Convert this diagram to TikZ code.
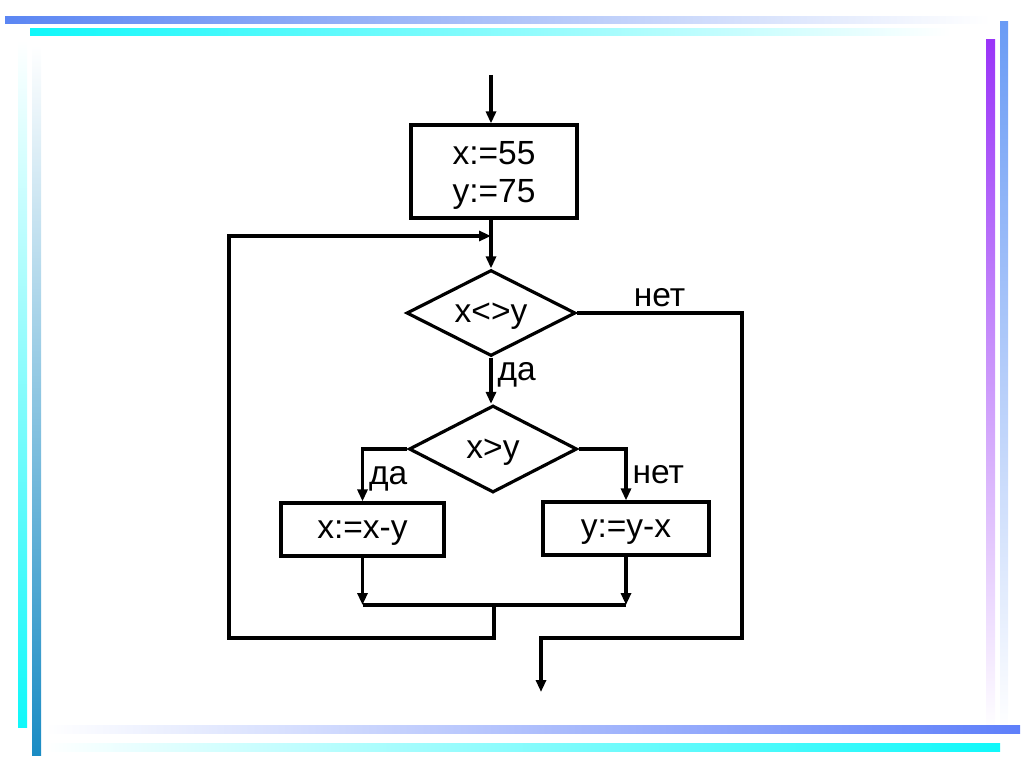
\documentclass[tikz,border=0pt]{standalone}
\usepackage{fontspec}
\setmainfont{Liberation Sans}
\usetikzlibrary{arrows.meta, positioning, shapes.geometric}

\definecolor{barblue}{HTML}{5B86F3}
\definecolor{barcyan}{HTML}{10F8FA}
\definecolor{barpurple}{HTML}{9A35F8}
\definecolor{barsky}{HTML}{6A9BF5}
\definecolor{barindigo}{HTML}{5E7FFA}
\definecolor{barsteel}{HTML}{1A8CC4}

\begin{document}
\begin{tikzpicture}[
  x=1pt, y=-1pt,
  box/.style={rectangle, draw, line width=3.2pt, inner sep=0pt, text depth=0pt, align=center, font=\fontsize{33.5}{38}\selectfont},
  cond/.style={diamond, draw, line width=3.2pt, inner sep=0pt, text depth=0pt, aspect=2, font=\fontsize{33.5}{38}\selectfont},
  flow/.style={line width=3.2pt, -{Triangle[length=12pt, width=10pt]}},
  wire/.style={line width=3.2pt},
  lbl/.style={font=\fontsize{33.5}{38}\selectfont, text depth=0pt, inner sep=5pt}
]
\useasboundingbox (0,0) rectangle (1024,767);
\shade[left color=barblue, right color=white] (5,17) rectangle (990,24);
\shade[left color=barcyan, right color=white] (30,29) rectangle (950,36);
\shade[top color=barpurple, bottom color=white] (986,40) rectangle (995,730);
\shade[top color=barsky, bottom color=white] (1000,22) rectangle (1008,730);
\shade[left color=white, right color=barindigo] (45,725) rectangle (1020,733);
\shade[left color=white, right color=barcyan] (45,743) rectangle (1000,751);
\shade[top color=white, bottom color=barcyan] (18,40) rectangle (27,727);
\shade[top color=white, bottom color=barsteel] (32,45) rectangle (41,755);

\node[box, minimum width=166pt, minimum height=93pt] (init) at (494,171.5) {x:=55\\y:=75};
\node[cond, minimum width=169pt, minimum height=86pt] (neq) at (491,313) {x<>y};
\node[cond, minimum width=168pt, minimum height=87pt] (gt) at (493,449) {x>y};
\node[box, minimum width=163pt, minimum height=53pt] (subx) at (362.5,529.5) {x:=x-y};
\node[box, minimum width=166pt, minimum height=53pt] (suby) at (626,528.5) {y:=y-x};

\coordinate (entry) at (491,75);
\coordinate (merge) at (491,236);
\coordinate (join) at (494,605);
\coordinate (back) at (229,638);
\coordinate (outR) at (742,638);
\coordinate (exit) at (541,692);

\draw[flow] (entry) -- (entry |- init.north);
\draw[flow] (init.south -| neq.north) -- (neq.north);
\draw[flow] (neq.south) -- node[lbl, pos=0.3, right] {да} (gt.north -| neq.south);
\draw[flow] (gt.west) -| node[lbl, pos=0.75, right] {да} (subx.north);
\draw[flow] (gt.east) -| node[lbl, pos=0.75, right] {нет} (suby.north);
\draw[flow] (subx.south) -- (subx.south |- join);
\draw[flow] (suby.south) -- (suby.south |- join);
\draw[wire] (subx.south |- join) -- (suby.south |- join);
\draw[flow] (join) |- (back) |- (merge);
\draw[flow] (neq.east) -- node[lbl, above] {нет} (neq.east -| outR) -- (outR) -- (outR -| exit) -- (exit);
\end{tikzpicture}
\end{document}
